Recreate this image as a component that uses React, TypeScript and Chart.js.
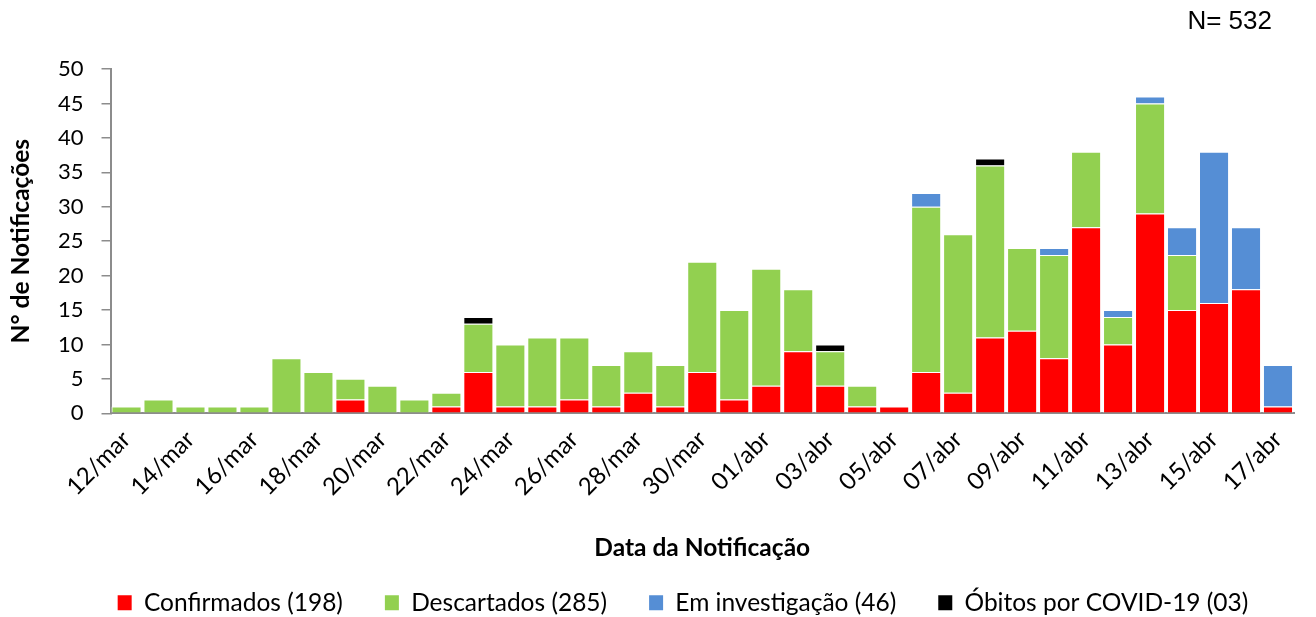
import React, { useEffect, useRef } from "react";
import { Chart, registerables } from "chart.js";

Chart.register(...registerables);

const categories = [
  "12/mar", "13/mar", "14/mar", "15/mar", "16/mar", "17/mar", "18/mar", "19/mar", "20/mar", "21/mar",
  "22/mar", "23/mar", "24/mar", "25/mar", "26/mar", "27/mar", "28/mar", "29/mar", "30/mar", "31/mar",
  "01/abr", "02/abr", "03/abr", "04/abr", "05/abr", "06/abr", "07/abr", "08/abr", "09/abr", "10/abr",
  "11/abr", "12/abr", "13/abr", "14/abr", "15/abr", "16/abr", "17/abr",
];

const confirmados = [
  0, 0, 0, 0, 0, 0, 0, 2, 0, 0,
  1, 6, 1, 1, 2, 1, 3, 1, 6, 2,
  4, 9, 4, 1, 1, 6, 3, 11, 12, 8,
  27, 10, 29, 15, 16, 18, 1,
];

const descartados = [
  1, 2, 1, 1, 1, 8, 6, 3, 4, 2,
  2, 7, 9, 10, 9, 6, 6, 6, 16, 13,
  17, 9, 5, 3, 0, 24, 23, 25, 12, 15,
  11, 4, 16, 8, 0, 0, 0,
];

const investigacao = [
  0, 0, 0, 0, 0, 0, 0, 0, 0, 0,
  0, 0, 0, 0, 0, 0, 0, 0, 0, 0,
  0, 0, 0, 0, 0, 2, 0, 0, 0, 1,
  0, 1, 1, 4, 22, 9, 6,
];

const obitos = [
  0, 0, 0, 0, 0, 0, 0, 0, 0, 0,
  0, 1, 0, 0, 0, 0, 0, 0, 0, 0,
  0, 0, 1, 0, 0, 0, 0, 1, 0, 0,
  0, 0, 0, 0, 0, 0, 0,
];

const seriesLabels = [
  "Confirmados (198)",
  "Descartados (285)",
  "Em investigação (46)",
  "Óbitos por COVID-19 (03)",
];

const yTicks = [0, 5, 10, 15, 20, 25, 30, 35, 40, 45, 50];

const FONT = "Lato, 'Open Sans', sans-serif";

const legendShift = {
  id: "legendShift",
  afterLayout(chart: any) {
    const l = chart.legend;
    if (l) {
      l.left += 33;
      l.right += 33;
    }
  },
};

export default function App() {
  const canvasRef = useRef<HTMLCanvasElement | null>(null);

  useEffect(() => {
    document.body.style.margin = "0";
    const canvas = canvasRef.current;
    if (!canvas) return;
    const mk = (label: string, data: number[], color: string) => ({
      label,
      data,
      backgroundColor: color,
      borderColor: "rgba(255,255,255,0.85)",
      borderWidth: 1,
      borderSkipped: "bottom" as const,
      barPercentage: 0.94,
      categoryPercentage: 1.0,
    });
    const chart = new Chart(canvas, {
      type: "bar",
      data: {
        labels: categories,
        datasets: [
          mk(seriesLabels[0], confirmados, "#FF0000"),
          mk(seriesLabels[1], descartados, "#92D050"),
          mk(seriesLabels[2], investigacao, "#558ED5"),
          mk(seriesLabels[3], obitos, "#000000"),
        ],
      },
      plugins: [legendShift],
      options: {
        animation: false,
        responsive: true,
        maintainAspectRatio: false,
        layout: { padding: { top: 69, right: 22, left: 6, bottom: -8 } },
        plugins: {
          tooltip: { enabled: false },
          legend: {
            position: "bottom",
            labels: {
              font: { family: FONT, size: 24.5 },
              color: "#000",
              boxWidth: 14,
              boxHeight: 15,
              padding: 42,
              generateLabels: (ch: any) =>
                ch.data.datasets.map((ds: any, i: number) => ({
                  text: ds.label,
                  fillStyle: ds.backgroundColor,
                  strokeStyle: ds.backgroundColor,
                  lineWidth: 0,
                  hidden: false,
                  datasetIndex: i,
                  fontColor: "#000",
                })),
            },
          },
        },
        scales: {
          x: {
            stacked: true,
            grid: { display: true, drawOnChartArea: false, drawTicks: false },
            border: { color: "#8c8c8c", width: 2 },
            ticks: {
              autoSkip: false,
              maxRotation: 45,
              minRotation: 45,
              color: "#000",
              padding: 12,
              font: { family: FONT, size: 24 },
              callback: (_v: any, i: number) => (i % 2 === 0 ? categories[i] : ""),
            },
            title: {
              display: true,
              text: "Data da Notificação",
              color: "#000",
              font: { family: FONT, size: 24.5, weight: "bold" },
              padding: { top: 20, bottom: -14 },
            },
          },
          y: {
            stacked: true,
            min: 0,
            max: 50,
            afterBuildTicks: (axis: any) => {
              axis.ticks = yTicks.map((v) => ({ value: v }));
            },
            grid: {
              display: true,
              drawOnChartArea: false,
              drawTicks: true,
              tickLength: 9,
              color: "#8c8c8c",
              lineWidth: 1.5,
            },
            border: { color: "#8c8c8c", width: 2 },
            ticks: {
              color: "#000",
              padding: 18,
              font: { family: FONT, size: 22 },
            },
            title: {
              display: true,
              text: "N° de Notificações",
              color: "#000",
              font: { family: FONT, size: 24.5, weight: "bold" },
              padding: { top: 0, bottom: 4.6 },
            },
          },
        },
      },
    });
    return () => chart.destroy();
  }, []);

  return (
    <div style={{ position: "relative", width: 1316, height: 617, background: "#fff" }}>
      <canvas ref={canvasRef} />
      <div
        style={{
          position: "absolute",
          right: 44,
          top: 5,
          fontFamily: "'Liberation Sans', Arial, sans-serif",
          fontSize: 26,
          color: "#000",
          whiteSpace: "nowrap",
        }}
      >
        N= 532
      </div>
    </div>
  );
}
